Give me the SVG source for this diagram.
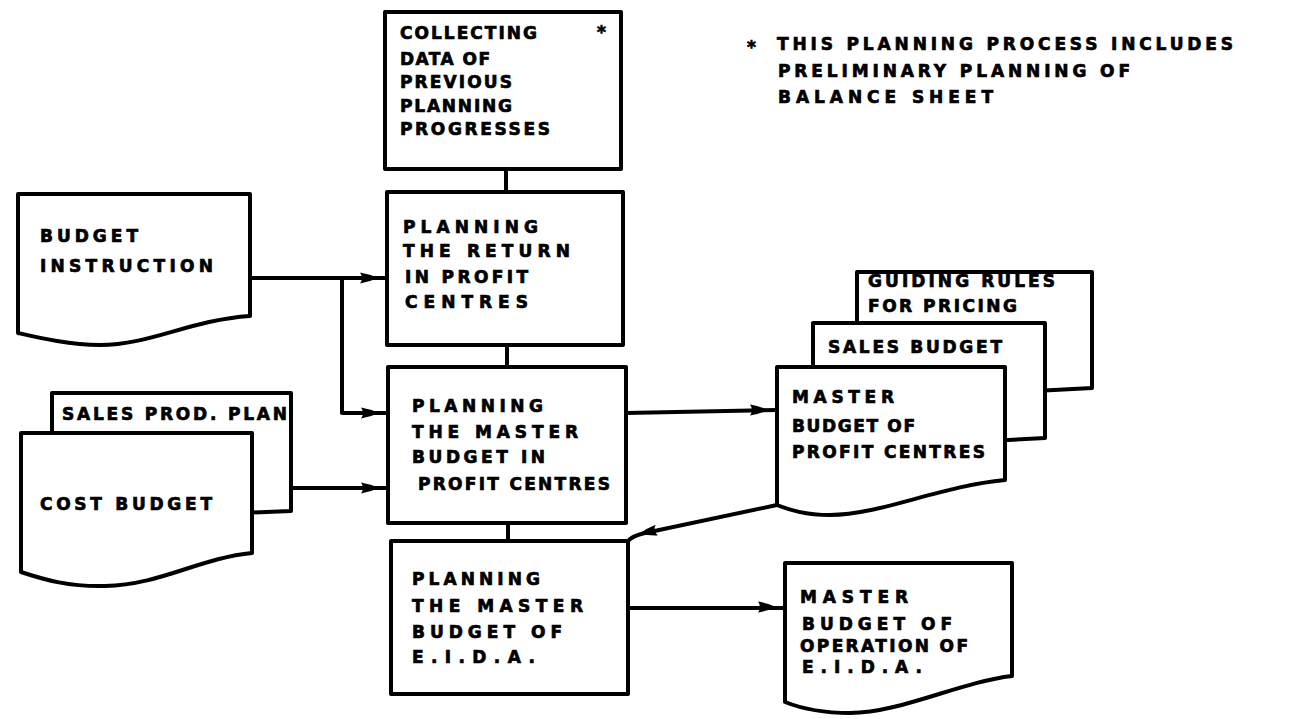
<svg xmlns="http://www.w3.org/2000/svg" xmlns:xlink="http://www.w3.org/1999/xlink" width="1291" height="719" viewBox="0 0 1291 719">
  <style>
    .shape { fill: #fff; stroke: #000; stroke-width: 4; stroke-linejoin: round; }
    .wire { fill: none; stroke: #000; stroke-width: 4; stroke-linecap: round; stroke-linejoin: round; }
    .lbl { font-family: "DejaVu Sans", "Liberation Sans", sans-serif; font-weight: bold; font-size: 17px; fill: #000; stroke: #000; stroke-width: 0.7; }
  </style>
  <defs>
    <!-- arrow tip drawn on the line, pointing along +x -->
    <path id="tip" d="M-14,-5.5 Q-5,-4 4,0 Q-5,4 -14,5.5 Q-10,0 -14,-5.5 Z" fill="#000"/>
  </defs>

  <rect width="1291" height="719" fill="#fff"/>

  <!-- footnote -->
  <g id="note">
    <text class="lbl" x="747" y="53" font-size="22">*</text>
    <text class="lbl" x="777" y="50" textLength="456" lengthAdjust="spacing">THIS PLANNING PROCESS INCLUDES</text>
    <text class="lbl" x="778" y="77" textLength="352" lengthAdjust="spacing">PRELIMINARY PLANNING OF</text>
    <text class="lbl" x="778" y="103" textLength="215" lengthAdjust="spacing">BALANCE SHEET</text>
  </g>

  <!-- connectors -->
  <g id="connectors">
    <path class="wire" d="M506,169 V192"/>
    <path class="wire" d="M507,345 V367"/>
    <path class="wire" d="M508,523 V541"/>
    <path class="wire" d="M250,278 H387"/>
    <path class="wire" d="M342,278 V413 H388"/>
    <path class="wire" d="M291,488 H388"/>
    <path class="wire" d="M626,413 L777,410"/>
    <path class="wire" d="M777,505 L645,533 Q632,536 628,541"/>
    <path class="wire" d="M628,608 H785"/>
    <use xlink:href="#tip" transform="translate(374,278)"/>
    <use xlink:href="#tip" transform="translate(375,413)"/>
    <use xlink:href="#tip" transform="translate(375,488)"/>
    <use xlink:href="#tip" transform="translate(764,410)"/>
    <use xlink:href="#tip" transform="translate(643,533) rotate(168)"/>
    <use xlink:href="#tip" transform="translate(772,607)"/>
  </g>

  <g id="collecting-data">
    <rect class="shape" x="385" y="12" width="236" height="157"/>
    <text class="lbl" x="400" y="39" textLength="137" lengthAdjust="spacing">COLLECTING</text>
    <text class="lbl" x="400" y="65" textLength="90" lengthAdjust="spacing">DATA OF</text>
    <text class="lbl" x="400" y="88" textLength="112" lengthAdjust="spacing">PREVIOUS</text>
    <text class="lbl" x="400" y="112" textLength="112" lengthAdjust="spacing">PLANNING</text>
    <text class="lbl" x="400" y="135" textLength="150" lengthAdjust="spacing">PROGRESSES</text>
    <text class="lbl" x="597" y="38" font-size="22">*</text>
  </g>

  <g id="planning-return">
    <rect class="shape" x="387" y="192" width="236" height="153"/>
    <text class="lbl" x="403" y="233" textLength="135" lengthAdjust="spacing">PLANNING</text>
    <text class="lbl" x="403" y="257" textLength="167" lengthAdjust="spacing">THE RETURN</text>
    <text class="lbl" x="405" y="283" textLength="123" lengthAdjust="spacing">IN PROFIT</text>
    <text class="lbl" x="405" y="308" textLength="123" lengthAdjust="spacing">CENTRES</text>
  </g>

  <g id="planning-master-pc">
    <rect class="shape" x="388" y="367" width="238" height="156"/>
    <text class="lbl" x="412" y="412" textLength="131" lengthAdjust="spacing">PLANNING</text>
    <text class="lbl" x="412" y="438" textLength="166" lengthAdjust="spacing">THE MASTER</text>
    <text class="lbl" x="412" y="463" textLength="133" lengthAdjust="spacing">BUDGET IN</text>
    <text class="lbl" x="418" y="490" textLength="192" lengthAdjust="spacing">PROFIT CENTRES</text>
  </g>

  <g id="planning-master-eida">
    <rect class="shape" x="391" y="541" width="237" height="153"/>
    <text class="lbl" x="412" y="585" textLength="128" lengthAdjust="spacing">PLANNING</text>
    <text class="lbl" x="412" y="612" textLength="171" lengthAdjust="spacing">THE MASTER</text>
    <text class="lbl" x="412" y="638" textLength="150" lengthAdjust="spacing">BUDGET OF</text>
    <text class="lbl" x="412" y="663" textLength="123" lengthAdjust="spacing">E.I.D.A.</text>
  </g>

  <g id="budget-instruction">
    <path class="shape" d="M18,194 H250 V316 C190,320 150,345 100,345 C70,345 40,338 18,333 Z"/>
    <text class="lbl" x="40" y="242" textLength="98" lengthAdjust="spacing">BUDGET</text>
    <text class="lbl" x="40" y="272" textLength="173" lengthAdjust="spacing">INSTRUCTION</text>
  </g>

  <g id="sales-prod-plan">
    <path class="shape" d="M52,393 H291 V511 L52,520 Z"/>
    <text class="lbl" x="62" y="420" textLength="225" lengthAdjust="spacing">SALES PROD. PLAN</text>
  </g>

  <g id="cost-budget">
    <path class="shape" d="M21,433 H252 V553 C200,558 160,585 105,586 C70,587 45,580 21,572 Z"/>
    <text class="lbl" x="40" y="510" textLength="172" lengthAdjust="spacing">COST BUDGET</text>
  </g>

  <g id="guiding-rules">
    <path class="shape" d="M857,272 H1092 V388 L857,400 Z"/>
    <text class="lbl" x="868" y="287" textLength="187" lengthAdjust="spacing">GUIDING RULES</text>
    <text class="lbl" x="868" y="312" textLength="149" lengthAdjust="spacing">FOR PRICING</text>
  </g>

  <g id="sales-budget">
    <path class="shape" d="M813,323 H1045 V438 L813,450 Z"/>
    <text class="lbl" x="828" y="353" textLength="174" lengthAdjust="spacing">SALES BUDGET</text>
  </g>

  <g id="master-budget-pc">
    <path class="shape" d="M777,367 H1005 V480 C940,486 880,515 830,515 C805,515 790,510 777,505 Z"/>
    <text class="lbl" x="792" y="403" textLength="102" lengthAdjust="spacing">MASTER</text>
    <text class="lbl" x="792" y="432" textLength="123" lengthAdjust="spacing">BUDGET OF</text>
    <text class="lbl" x="792" y="458" textLength="193" lengthAdjust="spacing">PROFIT CENTRES</text>
  </g>

  <g id="master-budget-eida">
    <path class="shape" d="M785,563 H1012 V676 C960,682 900,713 850,713 C820,713 800,708 785,702 Z"/>
    <text class="lbl" x="800" y="603" textLength="108" lengthAdjust="spacing">MASTER</text>
    <text class="lbl" x="802" y="630" textLength="150" lengthAdjust="spacing">BUDGET OF</text>
    <text class="lbl" x="800" y="652" textLength="168" lengthAdjust="spacing">OPERATION OF</text>
    <text class="lbl" x="802" y="673" textLength="120" lengthAdjust="spacing">E.I.D.A.</text>
  </g>
</svg>
